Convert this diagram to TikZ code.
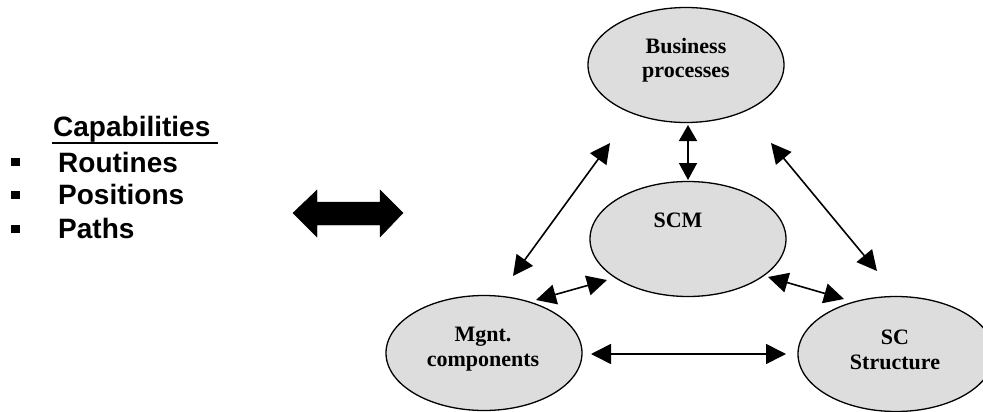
\documentclass[tikz,border=0pt]{standalone}
\usepackage{fontspec}
\setmainfont{Liberation Serif}
\newfontfamily\capfont{Liberation Sans}
\usetikzlibrary{arrows.meta,shapes.geometric}
\definecolor{ovalfill}{RGB}{221,221,221}
\tikzset{
  oval/.style={ellipse, draw=black, line width=1.3pt, fill=ovalfill,
    minimum width=196pt, minimum height=115pt, inner sep=0pt},
  ovaltext/.style={align=center, font=\fontsize{22}{24.5}\selectfont\bfseries, inner sep=0pt},
  listtext/.style={anchor=base west, inner sep=0pt, font=\capfont\fontsize{28}{32}\selectfont\bfseries},
  bulletbox/.style={fill=black, minimum width=9pt, minimum height=8pt, inner sep=0pt},
  tip/.style={Triangle[length=20pt,width=20pt]},
  link/.style={line width=1.6pt, {Triangle[length=20pt,width=20pt]}-{Triangle[length=20pt,width=20pt]}},
  shortlink/.style={line width=1.6pt, {Triangle[length=16pt,width=18pt]}-{Triangle[length=17pt,width=18pt]}},
  blockarrow/.style={fill=black}
}
\begin{document}
\begin{tikzpicture}[x=1pt,y=-1pt]
\useasboundingbox (0,0) rectangle (983,412);

% capability list
\node[listtext] (cap) at (53,136) {Capabilities};
\draw[line width=2.5pt] (52,143) -- (218,143);
\node[listtext] (rout) at (58,172) {Routines};
\node[listtext] (pos) at (58,204) {Positions};
\node[listtext] (path) at (58,238) {Paths};
\node[bulletbox] (b1) at (15,162) {};
\node[bulletbox] (b2) at (15,195) {};
\node[bulletbox] (b3) at (15,229) {};

% broad two-headed arrow
\filldraw[blockarrow] (293,213) -- (317,190) -- (317,202) -- (380,202) -- (380,190)
  -- (403,213) -- (380,237) -- (380,225) -- (317,225) -- (317,237) -- cycle;

% the four ovals
\node[oval] (bp) at (686,65) {};
\node[ovaltext] (bpt) at (686,60) {Business\\processes};
\node[oval] (scm) at (688,239) {};
\node[ovaltext] (scmt) at (678,220) {SCM};
\node[oval] (mc) at (484,353) {};
\node[ovaltext] (mct) at (483,349) {Mgnt.\\components};
\node[oval] (scs) at (896,354) {};
\node[ovaltext] (scst) at (895,350) {SC\\Structure};

% arrow end points
\coordinate (v1) at (688,125);
\coordinate (v2) at (688,180);
\coordinate (l1) at (610,143);
\coordinate (l2) at (513,276);
\coordinate (r1) at (771,143);
\coordinate (r2) at (877,271);
\coordinate (ml1) at (536,300);
\coordinate (ml2) at (607,280);
\coordinate (mr1) at (768,277);
\coordinate (mr2) at (844,299);
\coordinate (h1) at (591,354);
\coordinate (h2) at (786,354);

% connectors
\draw[shortlink] (v1) -- (v2);
\draw[link] (l1) -- (l2);
\draw[link] (r1) -- (r2);
\draw[link] (ml1) -- (ml2);
\draw[link] (mr1) -- (mr2);
\draw[link] (h1) -- (h2);
\end{tikzpicture}
\end{document}
